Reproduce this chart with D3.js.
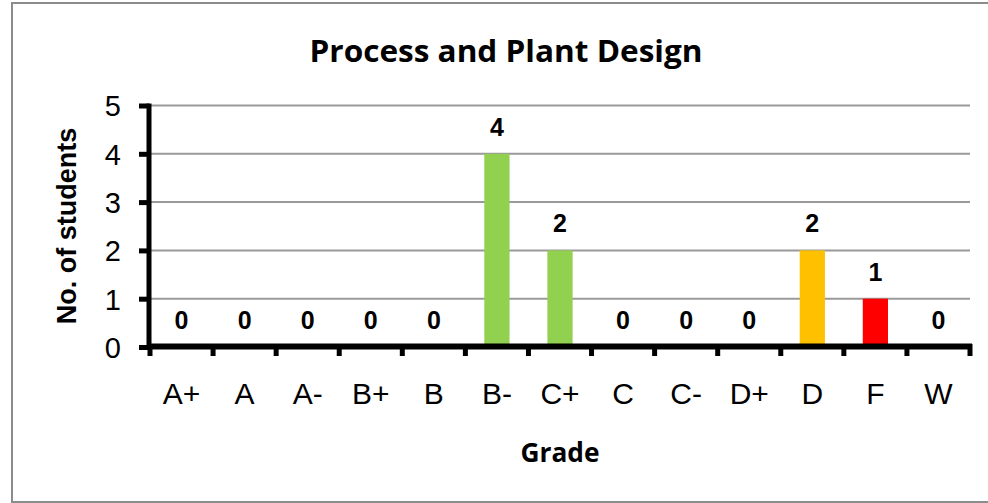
<!DOCTYPE html>
<html>
<head>
<meta charset="utf-8">
<script src="https://cdn.jsdelivr.net/npm/d3@7"></script>
<style>
    body { margin: 0; background: #fff; }
    svg { display: block; }
</style>
</head>
<body>
<div id="chart"></div>
<script>
// data
let grades = ["A+", "A", "A-", "B+", "B", "B-", "C+", "C", "C-", "D+", "D", "F", "W"];
let students = [0, 0, 0, 0, 0, 4, 2, 0, 0, 0, 2, 1, 0];
let barColors = ["#92D050", "#92D050", "#92D050", "#92D050", "#92D050", "#92D050", "#92D050",
    "#92D050", "#92D050", "#92D050", "#FFC000", "#FF0000", "#FF0000"];
let yTicks = [0, 1, 2, 3, 4, 5];

let width = 988,
    height = 503;

let svg = d3.select("#chart").append("svg")
    .attr("width", width)
    .attr("height", height);

// outer frame (no right edge visible in the picture)
svg.append("path")
    .attr("d", "M" + 12 + "," + 503 + "V" + 3 + "H" + 990 + "M" + 12 + "," + 502 + "H" + 990)
    .attr("fill", "none")
    .attr("stroke", "#8c8c8c")
    .attr("stroke-width", 2);

let x = d3.scaleBand()
    .domain(grades)
    .range([150, 970])
    .paddingInner(0.6)
    .paddingOuter(0.3);

let y = d3.scaleLinear()
    .domain([0, 5])
    .range([347, 105.5]);

// gridlines
svg.append("g")
    .selectAll("line")
    .data(yTicks.filter(function (d) { return d > 0; }))
    .enter()
    .append("line")
    .attr("x1", 150)
    .attr("x2", 970)
    .attr("y1", function (d) { return y(d); })
    .attr("y2", function (d) { return y(d); })
    .attr("stroke", "#9a9a9a")
    .attr("stroke-width", 2);

// bars
svg.append("g")
    .selectAll("rect")
    .data(grades)
    .enter()
    .append("rect")
    .attr("x", function (d) { return x(d); })
    .attr("width", x.bandwidth())
    .attr("y", function (d, i) { return y(students[i]); })
    .attr("height", function (d, i) { return y(0) - y(students[i]); })
    .attr("fill", function (d, i) { return barColors[i]; });

// value labels
svg.append("g")
    .selectAll("text")
    .data(grades)
    .enter()
    .append("text")
    .attr("x", function (d) { return x(d) + x.bandwidth() / 2; })
    .attr("y", function (d, i) { return y(students[i]) - 18; })
    .attr("text-anchor", "middle")
    .style("font-family", "'Liberation Sans', Arial, sans-serif")
    .style("font-weight", "bold")
    .style("font-size", "25px")
    .text(function (d, i) { return students[i]; });

// y axis
let yAxis = d3.axisLeft(y)
    .tickValues(yTicks)
    .tickSize(10)
    .tickPadding(18)
    .tickFormat(d3.format("d"));

let gy = svg.append("g")
    .attr("transform", "translate(149,0)")
    .call(yAxis);
gy.select(".domain")
    .attr("d", "M0," + 103.5 + "V" + 349.5)
    .attr("stroke", "#000")
    .attr("stroke-width", 5);
gy.selectAll(".tick line")
    .attr("stroke", "#000")
    .attr("stroke-width", 5);
gy.selectAll(".tick text")
    .attr("dy", "0.36em")
    .style("font-family", "'Liberation Sans', Arial, sans-serif")
    .style("font-size", "29px")
    .attr("fill", "#000");

// x axis: ticks sit on category boundaries
let bounds = d3.range(grades.length + 1).map(function (i) { return 150 + i * (820 / grades.length); });

let gx = svg.append("g");
gx.append("line")
    .attr("x1", 147)
    .attr("x2", 972)
    .attr("y1", 346.5)
    .attr("y2", 346.5)
    .attr("stroke", "#000")
    .attr("stroke-width", 6);
gx.selectAll(".xtick")
    .data(bounds)
    .enter()
    .append("line")
    .attr("class", "xtick")
    .attr("x1", function (d) { return d; })
    .attr("x2", function (d) { return d; })
    .attr("y1", 344)
    .attr("y2", 356)
    .attr("stroke", "#000")
    .attr("stroke-width", 5);
gx.selectAll(".xlabel")
    .data(grades)
    .enter()
    .append("text")
    .attr("class", "xlabel")
    .attr("x", function (d) { return x(d) + x.bandwidth() / 2; })
    .attr("y", 404)
    .attr("text-anchor", "middle")
    .style("font-family", "'Liberation Sans', Arial, sans-serif")
    .style("font-size", "30px")
    .text(function (d) { return d; });

// titles
svg.append("text")
    .attr("x", 506)
    .attr("y", 62)
    .attr("text-anchor", "middle")
    .attr("textLength", 393)
    .attr("lengthAdjust", "spacingAndGlyphs")
    .style("font-family", "'Open Sans', sans-serif")
    .style("font-weight", "bold")
    .style("font-size", "31px")
    .text("Process and Plant Design");

svg.append("text")
    .attr("x", 560)
    .attr("y", 462)
    .attr("text-anchor", "middle")
    .attr("textLength", 79)
    .attr("lengthAdjust", "spacingAndGlyphs")
    .style("font-family", "'Open Sans', sans-serif")
    .style("font-weight", "bold")
    .style("font-size", "26px")
    .text("Grade");

svg.append("text")
    .attr("transform", "translate(76,226) rotate(-90)")
    .attr("text-anchor", "middle")
    .style("font-family", "'Liberation Sans', Arial, sans-serif")
    .style("font-weight", "bold")
    .style("font-size", "27px")
    .text("No. of students");
</script>
</body>
</html>
